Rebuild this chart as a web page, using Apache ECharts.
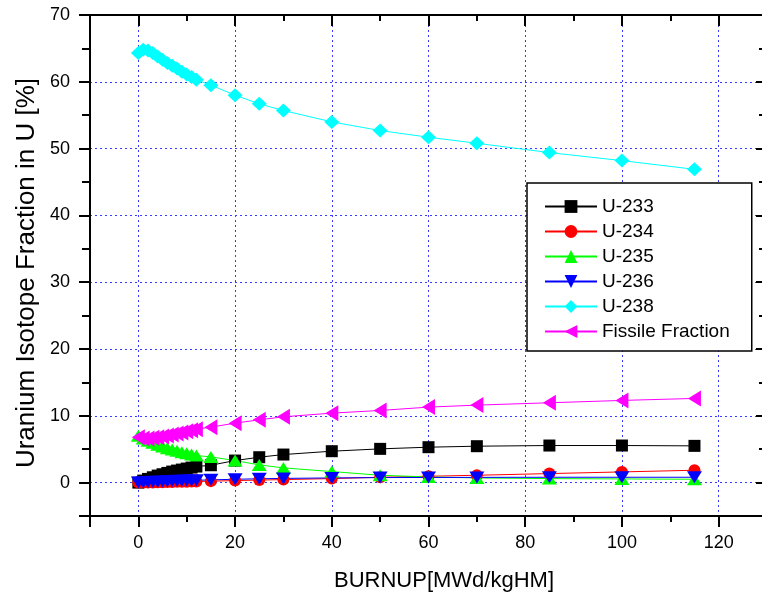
<!DOCTYPE html>
<html>
<head>
<meta charset="utf-8">
<script src="https://cdn.jsdelivr.net/npm/echarts@6/dist/echarts.min.js"></script>
<style>
  html, body { margin: 0; padding: 0; background: #fff; }
  #chart { width: 762px; height: 598px; }
</style>
</head>
<body>
<div id="chart"></div>
<script>
// Burnup steps [MWd/kgHM]
const burnup = [0, 1, 2, 3, 4, 5, 6, 7, 8, 9, 10, 11, 12, 15, 20, 25, 30, 40, 50, 60, 70, 85, 100, 115];

// Isotope fractions in U [%]
const u233 = [0, 0.3, 0.55, 0.8, 1.05, 1.25, 1.45, 1.65, 1.8, 1.95, 2.1, 2.25, 2.4, 2.6, 3.3, 3.8, 4.2, 4.7, 5.05, 5.3, 5.45, 5.55, 5.55, 5.5];
const u234 = [0, 0.01, 0.02, 0.03, 0.05, 0.06, 0.08, 0.09, 0.11, 0.12, 0.14, 0.15, 0.17, 0.22, 0.3, 0.38, 0.45, 0.6, 0.8, 0.95, 1.1, 1.35, 1.6, 1.85];
const u235 = [7.0, 6.6, 6.25, 5.95, 5.65, 5.4, 5.15, 4.95, 4.75, 4.55, 4.4, 4.2, 4.05, 3.85, 3.3, 2.65, 2.2, 1.65, 1.1, 0.85, 0.7, 0.6, 0.55, 0.5];
const u236 = [0, 0.04, 0.08, 0.11, 0.14, 0.17, 0.2, 0.23, 0.26, 0.28, 0.31, 0.33, 0.35, 0.41, 0.5, 0.57, 0.63, 0.7, 0.75, 0.77, 0.78, 0.8, 0.8, 0.8];
const u238 = [64.3, 64.8, 64.7, 64.3, 63.8, 63.3, 62.8, 62.4, 62.0, 61.5, 61.1, 60.7, 60.3, 59.5, 58.0, 56.7, 55.7, 54.0, 52.7, 51.7, 50.8, 49.4, 48.2, 46.9];
const fissile = [6.8, 6.6, 6.6, 6.7, 6.8, 6.9, 7.05, 7.2, 7.35, 7.5, 7.7, 7.85, 8.0, 8.3, 8.9, 9.4, 9.85, 10.4, 10.8, 11.3, 11.6, 11.95, 12.3, 12.6];

const seriesNames = ['U-233', 'U-234', 'U-235', 'U-236', 'U-238', 'Fissile Fraction'];
const xTitle = 'BURNUP[MWd/kgHM]';
const yTitle = 'Uranium Isotope Fraction in U [%]';

const FONT = '"Liberation Sans", Arial, sans-serif';
const GRID_BLUE = '#3b3bff';

const pairs = arr => burnup.map((x, i) => [x, arr[i]]);

function makeSeries(name, values, color, symbol, size, rotate) {
  return {
    name: name,
    type: 'line',
    xAxisIndex: 0,
    yAxisIndex: 0,
    data: pairs(values),
    symbol: symbol,
    symbolSize: size,
    symbolRotate: rotate || 0,
    showAllSymbol: true,
    lineStyle: { color: color, width: 1 },
    itemStyle: { color: color },
    emphasis: { disabled: true }
  };
}

function axis(kind, position, inside, showLabels, showGrid) {
  const isX = kind === 'x';
  return {
    type: 'value',
    position: position,
    min: isX ? -10 : -5,
    max: isX ? 130 : 70,
    splitNumber: isX ? 7 : 8,
    axisLine: { show: true, onZero: false, lineStyle: { color: '#000', width: 2 } },
    axisTick: { show: true, inside: inside, length: 11, lineStyle: { color: '#000', width: 2 } },
    minorTick: { show: true, splitNumber: 2, length: isX ? 6 : 8, lineStyle: { color: '#000', width: 2 } },
    axisLabel: {
      show: showLabels,
      margin: isX ? 18 : 20,
      color: '#000',
      fontSize: 18,
      fontFamily: FONT,
      showMinLabel: false,
      // the 130 end of the burnup axis lies outside the view; 70 is a labelled tick
      showMaxLabel: !isX
    },
    splitLine: {
      show: showGrid,
      showMinLine: false,
      showMaxLine: false,
      lineStyle: { color: GRID_BLUE, width: 1, type: [2, 3] }
    },
    minorSplitLine: { show: false }
  };
}

const chart = echarts.init(document.getElementById('chart'), null, { renderer: 'canvas' });

chart.setOption({
  animation: false,
  backgroundColor: '#fff',
  grid: { left: 90, top: 15, width: 677, height: 501, containLabel: false, outerBoundsMode: 'none' },
  xAxis: [
    axis('x', 'bottom', false, true, true),
    axis('x', 'top', true, false, false)
  ],
  yAxis: [
    axis('y', 'left', false, true, true),
    axis('y', 'right', true, false, false)
  ],
  legend: {
    orient: 'vertical',
    left: 527,
    top: 183,
    padding: [14, 22, 10, 17],
    itemWidth: 52,
    itemHeight: 16,
    itemGap: 6,
    backgroundColor: '#fff',
    borderColor: '#000',
    borderWidth: 1.5,
    borderRadius: 0,
    selectedMode: false,
    textStyle: { color: '#000', fontSize: 19, fontFamily: FONT, lineHeight: 19 },
    data: seriesNames
  },
  series: [
    makeSeries(seriesNames[0], u233, '#000000', 'rect', 12),
    makeSeries(seriesNames[1], u234, '#ff0000', 'circle', 12),
    makeSeries(seriesNames[2], u235, '#00ff00', 'triangle', [15, 12]),
    makeSeries(seriesNames[3], u236, '#0000ff', 'triangle', [15, 12], 180),
    makeSeries(seriesNames[4], u238, '#00ffff', 'diamond', [15, 14]),
    makeSeries(seriesNames[5], fissile, '#ff00ff', 'triangle', [16, 13], 90)
  ],
  graphic: [
    {
      type: 'text',
      x: 444,
      y: 581,
      style: {
        text: xTitle,
        font: '22px "Liberation Sans", Arial, sans-serif',
        fill: '#000',
        textAlign: 'center',
        textVerticalAlign: 'middle',
        align: 'center',
        verticalAlign: 'middle'
      }
    },
    {
      type: 'text',
      x: 27,
      y: 273,
      rotation: Math.PI / 2,
      style: {
        text: yTitle,
        font: '26px "Liberation Sans", Arial, sans-serif',
        fill: '#000',
        textAlign: 'center',
        textVerticalAlign: 'middle',
        align: 'center',
        verticalAlign: 'middle'
      }
    }
  ]
});
</script>
</body>
</html>
